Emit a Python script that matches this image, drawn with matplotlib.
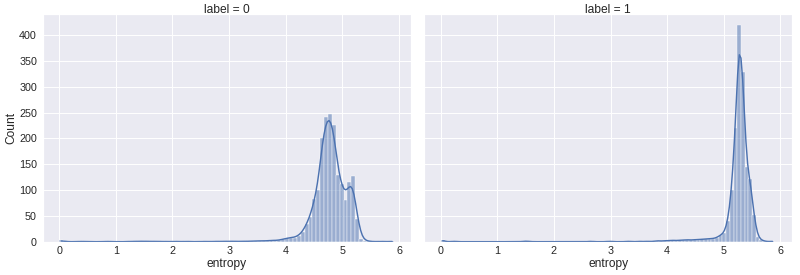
import numpy as np
import matplotlib
matplotlib.use("Agg")
import matplotlib.pyplot as plt
import seaborn as sns

# ---- data (histogram counts) ----
panel_titles = ["label = 0", "label = 1"]

bins0_start = 0.005
bins0_width = 0.0687
counts0 = [3, 0, 0, 0, 0, 1, 0, 0, 0, 0, 0, 0, 1, 0, 0, 0, 0, 0,
           1, 0, 1, 1, 0, 1, 0,
           0, 1, 0, 0, 1, 0, 0, 1, 0, 0, 0, 1, 0, 0, 1, 0,
           1, 0, 1, 1, 0, 1, 1, 0, 2, 1,
           2, 1, 2, 3, 2, 3, 5,
           7, 8, 8, 12,
           18, 35, 48, 83, 101, 201, 242, 247, 226, 130, 111, 80, 115, 128, 43, 6, 2,
           1, 0, 0, 1, 0, 0, 1]

bins1_start = 0.005
bins1_width = 0.0654
counts1 = [3,
           0, 0, 1, 0, 0, 0, 0, 0, 0, 0,
           0, 0, 0, 0, 0, 0, 0, 0, 0, 0,
           0, 1, 1, 0, 0, 0, 0, 0, 0, 0,
           0, 0, 0, 0, 0, 0, 0, 0, 0, 1,
           0, 0, 0, 0, 1, 0, 0, 0, 0, 1,
           0, 0, 1, 0, 1, 0, 1, 2, 1,
           2, 2, 3, 2, 3, 3, 4, 3, 4, 4, 5, 5, 6, 6,
           8, 13, 17, 41, 101, 221, 420, 329, 144, 122, 51, 10, 3, 1, 0, 1]

x_ticks = [0, 1, 2, 3, 4, 5, 6]
x_label = "entropy"
y_label = "Count"

# ---- plotting ----
sns.set_theme(style="darkgrid", context="notebook")
plt.rcParams["font.family"] = ["Liberation Sans", "DejaVu Sans"]
plt.rcParams.update({
    "xtick.labelsize": 11.2,
    "ytick.labelsize": 11.2,
    "axes.labelsize": 12.5,
    "axes.titlesize": 12.5,
    "xtick.major.size": 0,
    "ytick.major.size": 0,
    "xtick.major.pad": 5,
    "ytick.major.pad": 6,
})

fig, axes = plt.subplots(1, 2, figsize=(800 / 69, 275 / 69), dpi=69,
                         sharex=True, sharey=True)
fig.subplots_adjust(left=42.7 / 800, right=792.3 / 800,
                    bottom=1 - 241.7 / 275, top=1 - 14 / 275, wspace=0.036)

panels = [(bins0_start, bins0_width, counts0, 0.7),
          (bins1_start, bins1_width, counts1, 0.5)]
for ax, title, (start, width, counts, bwa) in zip(axes, panel_titles, panels):
    counts = np.asarray(counts)
    edges = start + width * np.arange(len(counts) + 1)
    centers = (edges[:-1] + edges[1:]) / 2
    samples = np.repeat(centers, counts)
    sns.histplot(x=samples, bins=edges, kde=True, ax=ax,
                 kde_kws={"cut": 0, "bw_adjust": bwa})
    ax.set_title(title, pad=1)
    ax.set_xlabel(x_label, labelpad=2)
    ax.set_xticks(x_ticks)

axes[0].set_ylabel(y_label, labelpad=2)
axes[1].set_ylabel("")

fig.savefig("out.png", dpi=69)
